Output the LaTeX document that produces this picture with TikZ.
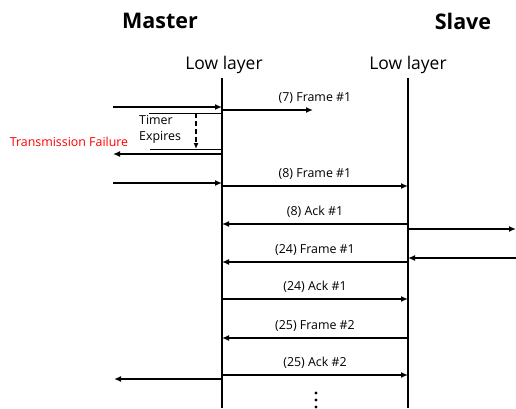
\documentclass[tikz,border=0pt]{standalone}
\usepackage{fontspec}
\setmainfont{Open Sans}
\usetikzlibrary{arrows.meta}

\begin{document}
\begin{tikzpicture}[x=1pt, y=-1pt,
    life/.style={line width=1.8pt},
    msg/.style={line width=1.8pt, -{Latex[length=7pt,width=6pt]}},
    thin/.style={line width=0.9pt},
    lbl/.style={font=\fontsize{12.4}{14}\selectfont, inner sep=1pt},
    head/.style={font=\fontsize{21.5}{26}\selectfont\bfseries, inner sep=0pt},
    layer/.style={font=\fontsize{17.5}{20}\selectfont, inner sep=0pt}]
  \useasboundingbox (0,0) rectangle (516,408);
  % headings
  \node[head] (master) at (160,21) {Master};
  \node[head] (slave) at (463,21) {Slave};
  \node[layer] (mlow) at (224,65) {Low layer};
  \node[layer] (slow) at (408,65) {Low layer};
  % lifelines
  \coordinate (mtop) at (222,78);
  \coordinate (mbot) at (222,408);
  \coordinate (stop) at (408,78);
  \coordinate (sbot) at (408,408);
  \draw[life] (mtop) -- (mbot);
  \draw[life] (stop) -- (sbot);
  % first try, lost
  \coordinate (in7) at (113,107);
  \coordinate (m7in) at (222,107);
  \draw[msg] (in7) -- (m7in);
  \coordinate (m7) at (222,110);
  \coordinate (lost7) at (313,110);
  \draw[msg] (m7) -- (lost7);
  \node[lbl] (f7) at (315,98) {(7) Frame \#1};
  % timer
  \coordinate (tstart) at (149,113);
  \coordinate (tstartm) at (222,113);
  \coordinate (tend) at (150,149);
  \coordinate (tendm) at (222,149);
  \draw[thin] (tstart) -- (tstartm);
  \draw[thin] (tend) -- (tendm);
  \coordinate (ttop) at (196,113);
  \coordinate (tbot) at (196,149);
  \draw[line width=1.4pt, dash pattern=on 5pt off 3pt, -{Latex[length=6pt,width=5pt]}] (ttop) -- (tbot);
  \node[font=\fontsize{12.4}{16}\selectfont, inner sep=0pt, align=left, anchor=west] (timer) at (139,129) {Timer\\Expires};
  \coordinate (mfail) at (222,154);
  \coordinate (fail) at (113,154);
  \draw[msg] (mfail) -- (fail);
  \node[lbl, red] (failtxt) at (69,142) {Transmission Failure};
  % second try
  \coordinate (in8) at (113,183);
  \coordinate (m8in) at (222,183);
  \draw[msg] (in8) -- (m8in);
  \coordinate (m8f) at (222,186);
  \coordinate (s8f) at (408,186);
  \draw[msg] (m8f) -- node[lbl, above=5pt] (f8) {(8) Frame \#1} (s8f);
  \coordinate (s8a) at (408,224);
  \coordinate (m8a) at (222,224);
  \draw[msg] (s8a) -- node[lbl, above=5pt] (a8) {(8) Ack \#1} (m8a);
  \coordinate (s8out) at (408,229);
  \coordinate (out8) at (516,229);
  \draw[msg] (s8out) -- (out8);
  % slave to master
  \coordinate (in24) at (516,258);
  \coordinate (s24in) at (408,258);
  \draw[msg] (in24) -- (s24in);
  \coordinate (s24f) at (408,262);
  \coordinate (m24f) at (222,262);
  \draw[msg] (s24f) -- node[lbl, above=5pt] (f24) {(24) Frame \#1} (m24f);
  \coordinate (m24a) at (222,299);
  \coordinate (s24a) at (408,299);
  \draw[msg] (m24a) -- node[lbl, above=5pt] (a24) {(24) Ack \#1} (s24a);
  \coordinate (s25f) at (408,338);
  \coordinate (m25f) at (222,338);
  \draw[msg] (s25f) -- node[lbl, above=5pt] (f25) {(25) Frame \#2} (m25f);
  \coordinate (m25a) at (222,375);
  \coordinate (s25a) at (408,375);
  \draw[msg] (m25a) -- node[lbl, above=5pt] (a25) {(25) Ack \#2} (s25a);
  \coordinate (m25out) at (222,379);
  \coordinate (out25) at (114,379);
  \draw[msg] (m25out) -- (out25);
  % more
  \fill (316,393) circle (1.6pt);
  \fill (316,400) circle (1.6pt);
  \fill (316,407) circle (1.6pt);
\end{tikzpicture}
\end{document}
